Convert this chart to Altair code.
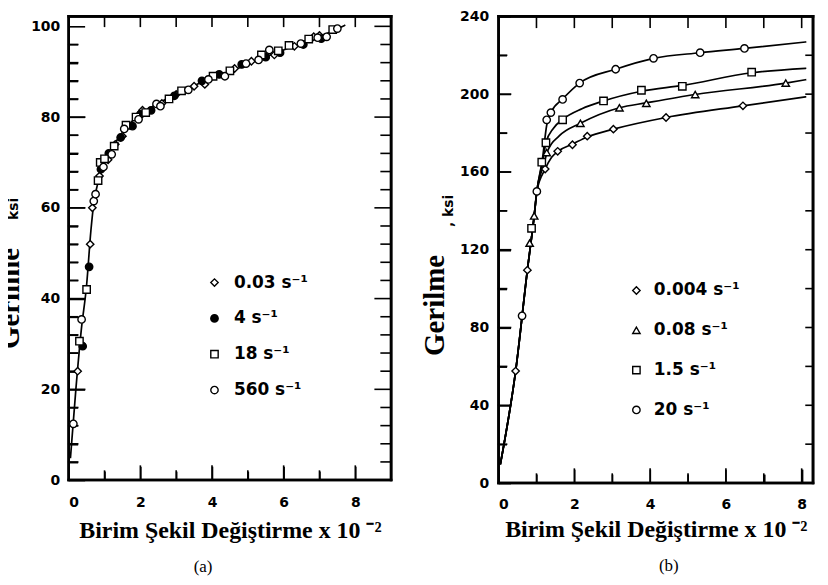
import altair as alt
import pandas as pd

# ---------------- panel (a) data ----------------
a_rates = ["0.03  s⁻¹", "4  s⁻¹", "18  s⁻¹", "560  s⁻¹"]
a_shapes = ["diamond", "circle", "square", "circle"]
a_fills = ["white", "black", "white", "white"]

a_s1_x = [0.25, 0.6, 0.66, 0.86, 1.1, 1.3, 1.5, 2.06, 2.6, 3.0, 3.5, 3.8, 4.63, 5.1, 5.74, 6.3, 6.84, 7.0]
a_s1_y = [24, 52, 60, 67, 70.6, 74, 75.8, 81.5, 83, 85, 86.8, 87.2, 90.7, 92.3, 93.7, 95.6, 97.7, 98]
a_s2_x = [0.39, 0.57, 0.9, 1.12, 1.45, 1.78, 2.0, 2.3, 2.95, 3.72, 4.2, 4.83, 5.5, 5.9, 6.55, 7.05]
a_s2_y = [29.5, 47, 68.5, 72, 75.5, 78, 80.6, 81.5, 84.7, 88, 89.4, 91.6, 93.2, 94.2, 96, 97.3]
a_s3_x = [0.3, 0.5, 0.82, 0.88, 1.0, 1.27, 1.6, 1.88, 2.15, 2.8, 3.15, 4.03, 4.5, 5.38, 5.85, 6.15, 6.7, 7.37]
a_s3_y = [30.6, 42, 66, 70, 70.8, 73.6, 78.2, 80, 81, 84, 85.8, 89, 90.2, 93.7, 94.6, 95.8, 97.2, 99.3]
a_s4_x = [0.13, 0.36, 0.7, 0.75, 0.97, 1.2, 1.55, 1.95, 2.45, 2.56, 3.34, 3.9, 4.36, 4.95, 5.3, 5.6, 6.48, 6.95, 7.2, 7.5]
a_s4_y = [12.4, 35.4, 61.5, 63, 69, 71.8, 77.4, 79.5, 82.9, 82.4, 86, 88.3, 89, 91.8, 92.6, 94.8, 96.2, 97.5, 97.7, 99.5]

a_line_x = [0.05, 0.2, 0.35, 0.5, 0.62, 0.7, 0.8, 0.95, 1.15, 1.45, 1.85, 2.4,
            3.0, 3.6, 4.2, 4.8, 5.4, 6.0, 6.6, 7.2, 7.7]
a_line_y = [5, 20, 33, 43, 55, 61, 65, 69, 72.5, 76, 79.7, 82.6,
            85, 87.3, 89.2, 91, 93, 94.8, 96.6, 98.4, 100.2]

a_x_major = [0, 2, 4, 6, 8]
a_x_minor = [1, 3, 5, 7]
a_x_top = [1, 2, 3, 4, 5, 6, 7, 8]
a_y_major = [0, 20, 40, 60, 80, 100]
a_y_minor = [4, 8, 12, 16, 24, 28, 32, 36, 44, 48, 52, 56, 64, 68, 72, 76, 84, 88, 92, 96]
a_y_right_major = [20, 40, 60, 80, 100]

# ---------------- panel (b) data ----------------
b_rates = ["0.004  s⁻¹", "0.08  s⁻¹", "1.5  s⁻¹", "20  s⁻¹"]
b_shapes = ["diamond", "triangle-up", "square", "circle"]
b_fills = ["white", "white", "white", "white"]

b_s1_x = [0.45, 0.76, 1.23, 1.56, 1.95, 2.34, 3.03, 4.42, 6.45]
b_s1_y = [57.6, 109.5, 161.5, 170.6, 174, 178.4, 182, 188, 194]
b_s2_x = [0.82, 0.94, 1.27, 2.16, 3.19, 3.9, 5.19, 7.58]
b_s2_y = [123.4, 137.4, 170, 185, 193, 195.3, 199.8, 205.7]
b_s3_x = [0.87, 1.14, 1.25, 1.69, 2.77, 3.77, 4.85, 6.68]
b_s3_y = [131, 165, 175, 186.8, 196.5, 202, 204, 211.3]
b_s4_x = [0.62, 1.01, 1.27, 1.38, 1.69, 2.14, 3.09, 4.09, 5.32, 6.49]
b_s4_y = [86, 150, 186.8, 190.5, 197.3, 205.7, 212.8, 218.4, 221.3, 223.5]

b_base_x = [0.05, 0.45, 0.76, 0.94, 1.01]
b_base_y = [10, 57.6, 109.5, 137.4, 150]
b_l1_x = [1.23, 1.4, 1.6, 1.95, 2.34, 3.03, 4.42, 6.45, 8.1]
b_l1_y = [161.5, 167.5, 171, 174.3, 178, 182, 188, 194, 198.6]
b_l2_x = [1.18, 1.3, 1.6, 2.16, 3.19, 3.9, 5.19, 7.58, 8.1]
b_l2_y = [163, 171, 178.5, 185, 193, 195.5, 199.8, 205.7, 207.4]
b_l3_x = [1.16, 1.25, 1.45, 1.69, 2.2, 2.77, 3.77, 4.85, 6.68, 8.1]
b_l3_y = [165, 175, 182.5, 187, 192.5, 196.5, 201.5, 204.5, 211, 213.3]
b_l4_x = [1.16, 1.27, 1.38, 1.69, 2.14, 3.09, 4.09, 5.32, 6.49, 8.1]
b_l4_y = [167, 184, 190.5, 197.5, 205.7, 212.8, 218.4, 221.3, 223.5, 226.8]

b_x_major = [0, 2, 4, 6, 8]
b_x_minor = [1, 3, 5, 7]
b_x_top = [1, 2, 3, 4, 5, 6, 7, 8]
b_y_major = [0, 40, 80, 120, 160, 200, 240]
b_y_minor = [20, 60, 100, 140, 180, 220]
b_y_right = [20, 40, 60, 80, 100, 120, 140, 160, 180, 200, 220]

X_TITLE = "Birim Şekil  Değiştirme x 10 ⁻²"
LABEL_FONT = "DejaVu Sans"
SERIF = "Liberation Serif"


def pts_frame(rates, xs, ys):
    rows = []
    for r, xx, yy in zip(rates, xs, ys):
        for a, b in zip(xx, yy):
            rows.append({"rate": r, "x": a, "y": b})
    return pd.DataFrame(rows)


def curve_rows(ids, xs, ys, sw=1.7):
    rows = []
    for i, xx, yy in zip(ids, xs, ys):
        for a, b in zip(xx, yy):
            rows.append({"id": i, "x": a, "y": b, "sw": sw})
    return rows


def frame_and_ticks(cfg, xmax, ymax, w, h):
    """Frame edges and short inward tick segments, built from the tick value lists."""
    rows = []
    sx = xmax / w
    sy = ymax / h

    def add(name, x1, y1, x2, y2, sw):
        rows.append({"id": name, "x": x1, "y": y1, "sw": sw})
        rows.append({"id": name, "x": x2, "y": y2, "sw": sw})

    add("frame_b", 0, 0, xmax, 0, 2.6)
    add("frame_t", 0, ymax, xmax, ymax, 2.6)
    add("frame_l", 0, 0, 0, ymax, 2.6)
    add("frame_r", xmax, 0, xmax, ymax, 2.6)
    n = 0
    for v in cfg["x_major"][1:]:
        add("t%d" % n, v, 0, v, cfg["xt_major"] * sy, 1.6); n += 1
    for v in cfg["x_minor"]:
        add("t%d" % n, v, 0, v, cfg["xt_minor"] * sy, 1.6); n += 1
    for v in cfg["x_top"]:
        add("t%d" % n, v, ymax, v, ymax - cfg["xt_top"] * sy, 1.6); n += 1
    for v in cfg["y_major"][1:-1]:
        add("t%d" % n, 0, v, cfg["yt_major"] * sx, v, 1.6); n += 1
    for v in cfg["y_minor"]:
        add("t%d" % n, 0, v, cfg["yt_minor"] * sx, v, 1.6); n += 1
    for v in cfg["y_right"]:
        add("t%d" % n, xmax, v, xmax - cfg["yt_right"] * sx, v, 1.6); n += 1
    for v in cfg.get("y_right_major", []):
        add("t%d" % n, xmax, v, xmax - 16 * sx, v, 1.6); n += 1
    return rows


def tick_axis(orient, values, size, **kw):
    args = dict(orient=orient, values=values, tickSize=size, offset=-size, domain=False,
                grid=False, tickColor="black", tickWidth=1.6, labels=False, title=None)
    args.update(kw)
    return alt.Axis(**args)


def panel(line_rows, pts_df, rates, shapes, fills, xmax, ymax, w, h, cfg):
    xs = alt.Scale(domain=[0, xmax], nice=False, zero=False)
    ys = alt.Scale(domain=[0, ymax], nice=False, zero=False)
    line_df = pd.DataFrame(line_rows + frame_and_ticks(cfg, xmax, ymax, w, h))

    x_major = tick_axis("bottom", cfg["x_major"], cfg["xt_major"], labels=True,
                        labelFont=LABEL_FONT, labelFontSize=14, labelFontWeight="bold",
                        labelColor="black", labelPadding=cfg["xlab_pad"],
                        title=X_TITLE, titleFont=SERIF, titleFontSize=24,
                        titleFontWeight="bold", titleColor="black",
                        titlePadding=cfg["xtitle_pad"])
    y_major = tick_axis("left", cfg["y_major"], cfg["yt_major"], labels=True,
                        labelFont=LABEL_FONT, labelFontSize=14, labelFontWeight="bold",
                        labelColor="black", labelPadding=cfg["ylab_pad"],
                        title="Gerilme", titleFont=SERIF, titleFontSize=29,
                        titleFontWeight="bold", titleColor="black", titleAngle=270,
                        titleAlign="center", titleBaseline="alphabetic",
                        titleX=cfg["g_x"], titleY=cfg["g_y"])
    x_minor = tick_axis("bottom", cfg["x_minor"], cfg["xt_minor"])
    y_minor = tick_axis("left", cfg["y_minor"], cfg["yt_minor"],
                        title=cfg["ksi"], titleFont=LABEL_FONT, titleFontSize=14,
                        titleFontWeight="bold", titleColor="black", titleAngle=270,
                        titleAlign="center", titleBaseline="alphabetic",
                        titleX=cfg["k_x"], titleY=cfg["k_y"])

    lines = alt.Chart(line_df).mark_line(
        color="black", interpolate="monotone", strokeCap="square"
    ).encode(
        x=alt.X("x:Q", scale=xs, axis=x_major),
        y=alt.Y("y:Q", scale=ys, axis=y_major),
        detail="id:N",
        strokeWidth=alt.StrokeWidth("sw:Q", scale=None),
    )

    leg = alt.Legend(orient="none", legendX=cfg["leg_x"], legendY=cfg["leg_y"], title=None,
                     direction="vertical", padding=0, labelFont=LABEL_FONT,
                     labelFontSize=17, labelFontWeight="bold", labelColor="black",
                     labelOffset=cfg["leg_off"], rowPadding=cfg["leg_row"],
                     symbolStrokeWidth=1.4, symbolSize=55, symbolOpacity=1)
    points = alt.Chart(pts_df).mark_point(
        filled=True, strokeWidth=1.4, size=55, opacity=1
    ).encode(
        x=alt.X("x:Q", scale=xs, axis=x_minor),
        y=alt.Y("y:Q", scale=ys, axis=y_minor),
        shape=alt.Shape("rate:N", scale=alt.Scale(domain=rates, range=shapes), legend=leg),
        fill=alt.Fill("rate:N", scale=alt.Scale(domain=rates, range=fills), legend=leg),
        stroke=alt.Stroke("rate:N", scale=alt.Scale(domain=rates, range=["black"] * 4), legend=leg),
    )

    return alt.layer(lines, points).resolve_scale(x="independent", y="independent").properties(
        width=w, height=h,
        view=alt.ViewBackground(stroke="black", strokeWidth=2.6),
        title=alt.TitleParams(cfg["caption"], orient="bottom", font=SERIF, fontSize=17,
                              fontWeight="normal", color="black", dx=cfg["cap_dx"],
                              offset=cfg["cap_off"]),
    )


a_line_rows = curve_rows(["curve"], [a_line_x], [a_line_y])
b_line_rows = curve_rows(
    b_rates,
    [b_base_x + b_l1_x, b_base_x + b_l2_x, b_base_x + b_l3_x, b_base_x + b_l4_x],
    [b_base_y + b_l1_y, b_base_y + b_l2_y, b_base_y + b_l3_y, b_base_y + b_l4_y],
)
a_pts = pts_frame(a_rates, [a_s1_x, a_s2_x, a_s3_x, a_s4_x], [a_s1_y, a_s2_y, a_s3_y, a_s4_y])
b_pts = pts_frame(b_rates, [b_s1_x, b_s2_x, b_s3_x, b_s4_x], [b_s1_y, b_s2_y, b_s3_y, b_s4_y])

cfg_a = dict(x_major=a_x_major, xt_major=14, x_minor=a_x_minor, xt_minor=9,
             x_top=a_x_top, xt_top=10, y_major=a_y_major, yt_major=16,
             y_minor=a_y_minor, yt_minor=9, y_right=a_y_minor, yt_right=10,
             y_right_major=a_y_right_major,
             xlab_pad=16, xtitle_pad=9, ylab_pad=9,
             g_x=-66, g_y=283, ksi="ksi", k_x=-60, k_y=193,
             leg_x=138, leg_y=259, leg_off=11, leg_row=18,
             caption="(a)", cap_dx=-27, cap_off=16)
cfg_b = dict(x_major=b_x_major, xt_major=14, x_minor=b_x_minor, xt_minor=9,
             x_top=b_x_top, xt_top=11, y_major=b_y_major, yt_major=12,
             y_minor=b_y_minor, yt_minor=8, y_right=b_y_right, yt_right=7,
             xlab_pad=15, xtitle_pad=6, ylab_pad=10,
             g_x=-67, g_y=290, ksi=", ksi", k_x=-54, k_y=195,
             leg_x=130, leg_y=267, leg_off=9, leg_row=22,
             caption="(b)", cap_dx=13, cap_off=16)

pa = panel(a_line_rows, a_pts, a_rates, a_shapes, a_fills, 9, 102.2, 324, 466, cfg_a)
pb = panel(b_line_rows, b_pts, b_rates, b_shapes, b_fills, 8.3, 240, 316, 469, cfg_b)

chart = alt.hconcat(pa, pb, spacing=21).resolve_scale(
    shape="independent", fill="independent", stroke="independent"
).properties(
    padding={"left": -14, "right": 0, "top": -2, "bottom": 0}
).configure_view(stroke="black", strokeWidth=2.5)

chart.save("out.html", embed_options={"renderer": "svg", "actions": False})
